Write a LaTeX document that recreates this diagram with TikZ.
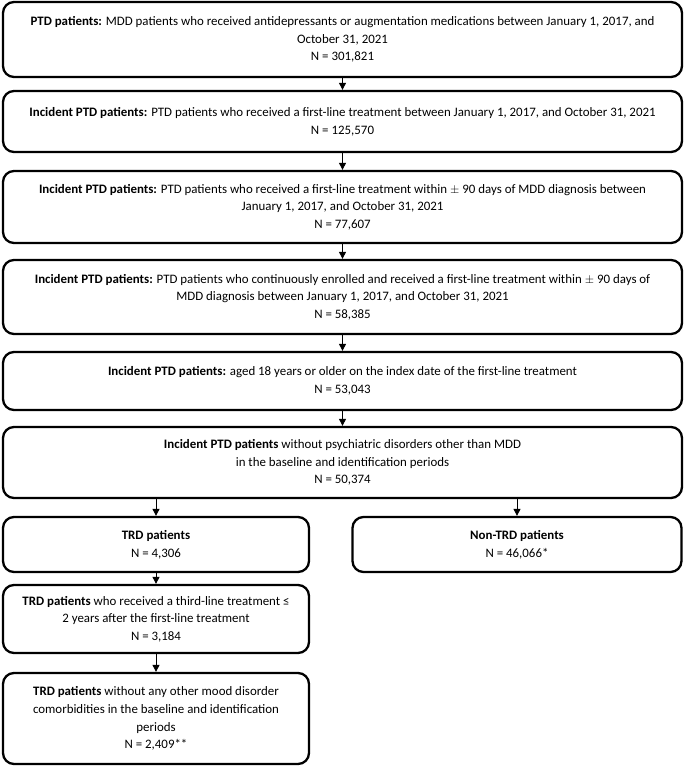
\documentclass[tikz,border=0pt]{standalone}
\usepackage{fontspec}
\setmainfont{Carlito}
\usetikzlibrary{arrows.meta}
\begin{document}
\begin{tikzpicture}[x=1pt,y=-1pt,
  box/.style={draw=black,line width=2.3pt,rounded corners=11pt,inner sep=0pt,
    align=center,font=\fontsize{12.9}{17.6}\selectfont},
  conn/.style={line width=0.9pt,-{Triangle[length=7pt,width=7pt]}}]
\useasboundingbox (0,0) rectangle (685,768);
\node[box,minimum width=679pt,minimum height=75pt] (b1) at (342.5,39.5)
  {\textbf{PTD patients:} MDD patients who received antidepressants or augmentation medications between January 1, 2017, and\\October 31, 2021\\N = 301,821};
\node[box,minimum width=679pt,minimum height=61pt] (b2) at (342.5,121.5)
  {\textbf{Incident PTD patients:} PTD patients who received a first-line treatment between January 1, 2017, and October 31, 2021\\N = 125,570};
\node[box,minimum width=679pt,minimum height=72pt] (b3) at (342.5,207)
  {\textbf{Incident PTD patients:} PTD patients who received a first-line treatment within $\pm$ 90 days of MDD diagnosis between\\January 1, 2017, and October 31, 2021\\N = 77,607};
\node[box,minimum width=679pt,minimum height=74pt] (b4) at (342.5,297)
  {\textbf{Incident PTD patients:} PTD patients who continuously enrolled and received a first-line treatment within $\pm$ 90 days of\\MDD diagnosis between January 1, 2017, and October 31, 2021\\N = 58,385};
\node[box,minimum width=679pt,minimum height=58pt] (b5) at (342.5,381)
  {\textbf{Incident PTD patients:} aged 18 years or older on the index date of the first-line treatment\\N = 53,043};
\node[box,minimum width=679pt,minimum height=71pt] (b6) at (342.5,462.5)
  {\textbf{Incident PTD patients} without psychiatric disorders other than MDD\\in the baseline and identification periods\\N = 50,374};
\node[box,minimum width=306pt,minimum height=55pt] (b7) at (156,544.5)
  {\textbf{TRD patients}\\N = 4,306};
\node[box,minimum width=329pt,minimum height=55pt] (b8) at (517,544.5)
  {\textbf{Non-TRD patients}\\N = 46,066*};
\node[box,minimum width=306pt,minimum height=68pt] (b9) at (156,619)
  {\textbf{TRD patients} who received a third-line treatment ≤\\2 years after the first-line treatment\\N = 3,184};
\node[box,minimum width=306pt,minimum height=91pt] (b10) at (156,718.5)
  {\textbf{TRD patients} without any other mood disorder\\comorbidities in the baseline and identification\\periods\\N = 2,409**};
\draw[conn] (b1) -- (b2);
\draw[conn] (b2) -- (b3);
\draw[conn] (b3) -- (b4);
\draw[conn] (b4) -- (b5);
\draw[conn] (b5) -- (b6);
\draw[conn] (b7.north |- b6.south) -- (b7.north);
\draw[conn] (b8.north |- b6.south) -- (b8.north);
\draw[conn] (b7) -- (b9);
\draw[conn] (b9) -- (b10);
\end{tikzpicture}
\end{document}
